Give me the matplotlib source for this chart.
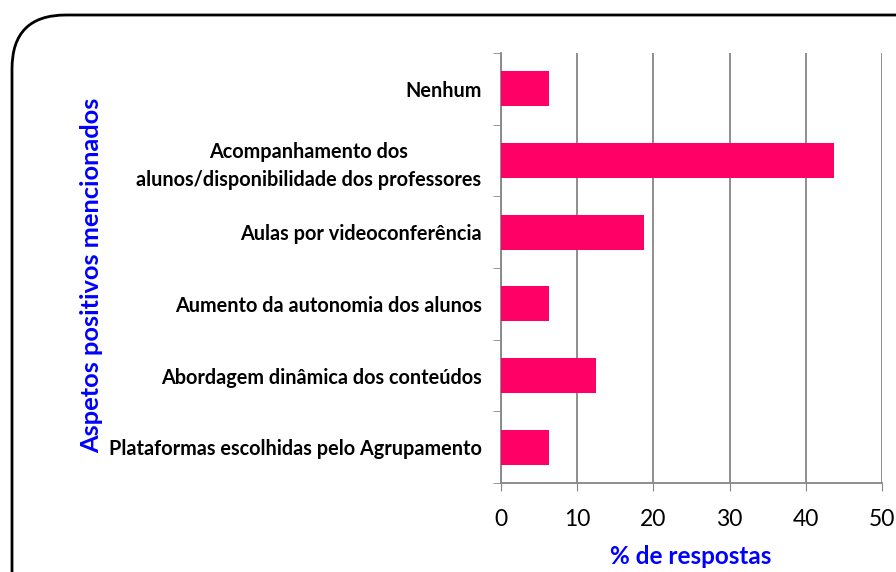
import matplotlib.pyplot as plt
from matplotlib.patches import FancyBboxPatch

plt.rcParams['font.family'] = ['Lato', 'DejaVu Sans']

categories = ["Nenhum",
              "Acompanhamento dos\nalunos/disponibilidade dos professores",
              "Aulas por videoconferência",
              "Aumento da autonomia dos alunos",
              "Abordagem dinâmica dos conteúdos",
              "Plataformas escolhidas pelo Agrupamento"]
percent = [6.25, 43.75, 18.75, 6.25, 12.5, 6.25]
x_ticks = [0, 10, 20, 30, 40, 50]

fig = plt.figure(figsize=(8.96, 5.72), dpi=100)

# rounded chart frame, cut off at right and bottom like the screenshot
frame = FancyBboxPatch((12 / 896, -0.2), 1.2, 1.2 - 15 / 572,
                       boxstyle="round,pad=0,rounding_size=0.06",
                       transform=fig.transFigure, facecolor="none",
                       edgecolor="black", linewidth=2, mutation_aspect=896 / 572)
fig.patches.append(frame)

ax = fig.add_axes([501 / 896, 1 - 483 / 572, 381 / 896, 430 / 572])
ax.set_facecolor("none")

y = list(range(len(categories)))[::-1]
ax.barh(y, percent, height=0.49, color="#FF0066", zorder=3)

ax.set_xlim(0, 50)
ax.set_ylim(-0.5, len(categories) - 0.5)
ax.set_xticks(x_ticks)
ax.set_xticklabels([str(t) for t in x_ticks], fontsize=16.5)
ax.set_yticks(y)
ax.set_yticklabels(categories, fontsize=14.3, fontweight="bold", linespacing=1.5,
                   multialignment="center")
ax.set_yticks([v + 0.5 for v in range(-1, len(categories))], minor=True)

ax.tick_params(axis="y", which="major", length=0, pad=14)
ax.tick_params(axis="y", which="minor", length=6, color="#868686", direction="out")
ax.tick_params(axis="x", length=6, color="#868686", pad=13)

ax.grid(axis="x", color="#868686", linewidth=1.3, zorder=0)
for side in ["top", "right"]:
    ax.spines[side].set_visible(False)
for side in ["left", "bottom"]:
    ax.spines[side].set_color("#868686")
    ax.spines[side].set_linewidth(1.3)

fig.text(691 / 896, 1 - 557 / 572, "% de respostas", fontsize=17.5, fontweight="bold",
         color="#0000FF", ha="center", va="center")
fig.text(92 / 896, 1 - 275 / 572, "Aspetos positivos mencionados", rotation=90,
         fontsize=18.3, fontweight="bold", color="#0000FF", ha="center", va="center")

fig.savefig("out.png", dpi=100)
